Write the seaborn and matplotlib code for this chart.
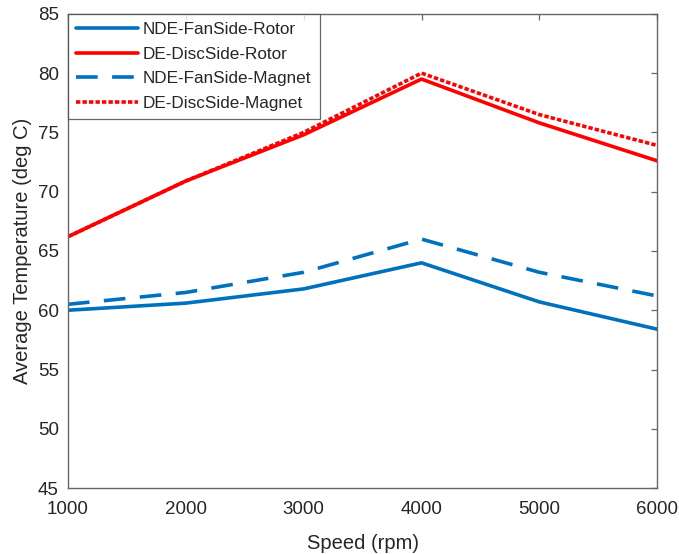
import numpy as np
import pandas as pd
import matplotlib
matplotlib.use("Agg")
import matplotlib.pyplot as plt
import seaborn as sns

speed = [1000, 2000, 3000, 4000, 5000, 6000]
nde_rotor = [60.0, 60.6, 61.8, 64.0, 60.7, 58.4]
de_rotor = [66.2, 70.9, 74.8, 79.5, 75.8, 72.6]
nde_magnet = [60.5, 61.5, 63.2, 66.0, 63.2, 61.2]
de_magnet = [66.2, 70.9, 75.0, 80.0, 76.5, 73.9]

names = ["NDE-FanSide-Rotor", "DE-DiscSide-Rotor", "NDE-FanSide-Magnet", "DE-DiscSide-Magnet"]
series = [nde_rotor, de_rotor, nde_magnet, de_magnet]
colors = ["#0072BD", "#FF0000", "#0072BD", "#FF0000"]
styles = ["-", "-", (0, (6, 4)), (0, (1.2, 0.6))]

sns.set_style("white")
plt.rcParams['font.family'] = ['Liberation Sans', 'DejaVu Sans']

fig = plt.figure(figsize=(6.79, 5.54), dpi=100)
ax = fig.add_axes([0.100, 0.119, 0.868, 0.856])

for name, vals, c, ls in zip(names, series, colors, styles):
    df = pd.DataFrame({"Speed": speed, "Temp": vals})
    sns.lineplot(data=df, x="Speed", y="Temp", ax=ax, color=c, linewidth=2.6,
                 linestyle=ls, label=name)

ax.set_xlim(1000, 6000)
ax.set_ylim(45, 85)
ax.set_xticks(speed)
ax.set_yticks(np.arange(45, 86, 5))
ax.set_xlabel("Speed (rpm)", fontsize=14.5, color="#262626", labelpad=12)
ax.set_ylabel("Average Temperature (deg C)", fontsize=14.5, color="#262626", labelpad=4)
ax.tick_params(direction="in", length=4, top=True, right=True, labelsize=13.5,
               colors="#666666", labelcolor="#262626", width=0.9)
ax.tick_params(axis="x", pad=9)
ax.tick_params(axis="y", pad=6.5)
for s in ax.spines.values():
    s.set_color("#666666")
    s.set_linewidth(1.0)
    s.set_visible(True)

leg = ax.legend(loc="upper left", fontsize=12.3, frameon=True, fancybox=False,
                borderaxespad=0, handlelength=3.6, handletextpad=0.3,
                borderpad=0.5, labelspacing=0.55)
leg.get_frame().set_edgecolor("#444444")
leg.get_frame().set_linewidth(0.9)

fig.savefig("out.png", dpi=100)
